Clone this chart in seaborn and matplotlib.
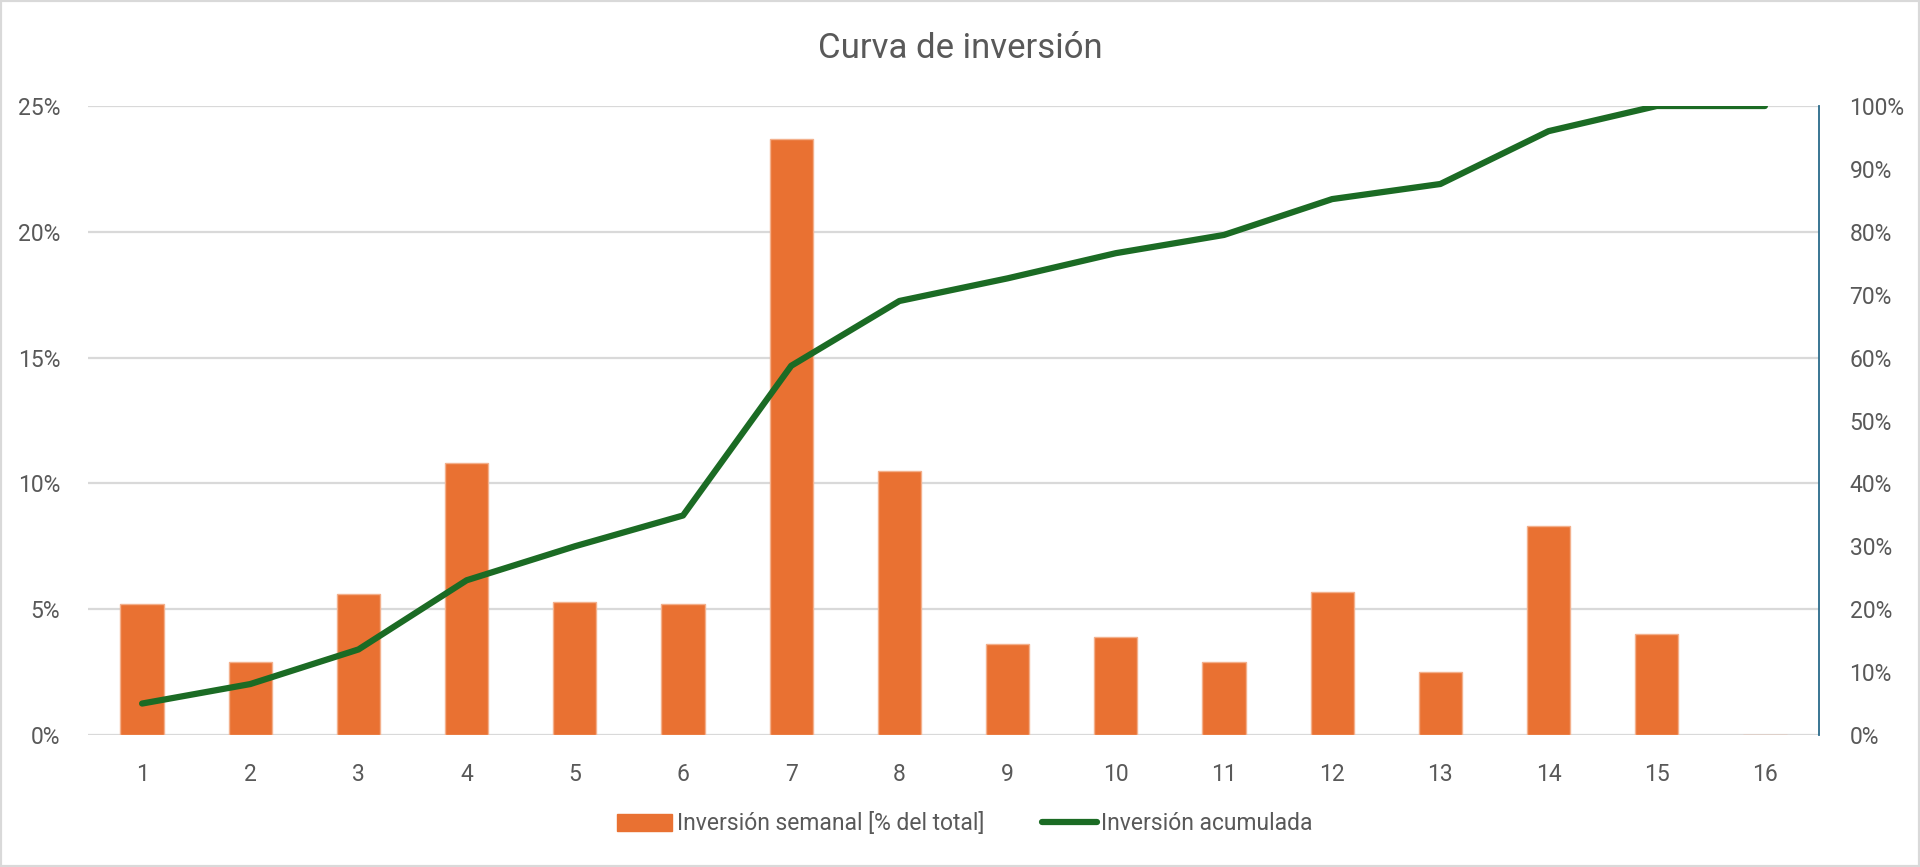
import matplotlib
matplotlib.use("Agg")
import matplotlib.pyplot as plt
import matplotlib.ticker as mticker
import numpy as np
import pandas as pd
import seaborn as sns
from matplotlib.lines import Line2D
from matplotlib.patches import Patch, Rectangle

weeks = [str(i) for i in range(1, 17)]
weekly_pct = [5.2, 2.9, 5.6, 10.8, 5.3, 5.2, 23.7, 10.5, 3.6, 3.9, 2.9, 5.7, 2.5, 8.3, 4.0, 0.0]
cumulative_pct = [5.0, 8.1, 13.6, 24.6, 30.0, 34.9, 58.7, 69.0, 72.6, 76.6, 79.5, 85.2, 87.6, 96.0, 100.0, 100.0]

left_ticks = [0, 5, 10, 15, 20, 25]
right_ticks = [0, 10, 20, 30, 40, 50, 60, 70, 80, 90, 100]

title = "Curva de inversión"
bar_label = "Inversión semanal [% del total]"
line_label = "Inversión acumulada"

BAR_COLOR = "#E97132"
LINE_COLOR = "#1B6B24"
TEXT_COLOR = "#595959"
GRID_COLOR = "#D9D9D9"

sns.set_theme(style="white")
plt.rcParams["font.family"] = ["Roboto", "DejaVu Sans"]

df = pd.DataFrame({"week": weeks, "weekly": weekly_pct, "cum": cumulative_pct})

fig = plt.figure(figsize=(19.2, 8.67), dpi=100)
ax = fig.add_axes([88 / 1920, 1 - 735 / 867, (1819 - 88) / 1920, (735 - 106) / 867])

sns.barplot(data=df, x="week", y="weekly", color=BAR_COLOR, width=0.4,
            edgecolor="#F3B08C", linewidth=1.0, saturation=1, ax=ax, zorder=2)
ax.set_ylim(0, 25)
ax.set_yticks(left_ticks)
ax.yaxis.set_major_formatter(mticker.FuncFormatter(lambda v, p: f"{v:.0f}%"))
ax.grid(axis="y", color=GRID_COLOR, linewidth=1.6, zorder=0)
ax.set_axisbelow(True)
for s in ["left", "right", "top", "bottom"]:
    ax.spines[s].set_visible(False)
ax.set_xlabel("")
ax.set_ylabel("")
ax.tick_params(axis="both", length=0, labelsize=16.5, labelcolor=TEXT_COLOR)
ax.tick_params(axis="y", pad=20)
ax.tick_params(axis="x", pad=20)

ax2 = ax.twinx()
sns.lineplot(x=np.arange(len(weeks)), y=cumulative_pct, color=LINE_COLOR, linewidth=4.5,
             ax=ax2, solid_capstyle="round", zorder=3)
ax2.set_ylim(0, 100)
ax2.set_yticks(right_ticks)
ax2.yaxis.set_major_formatter(mticker.FuncFormatter(lambda v, p: f"{v:.0f}%"))
ax2.grid(False)
for s in ["left", "top", "bottom"]:
    ax2.spines[s].set_visible(False)
ax2.spines["right"].set_visible(True)
ax2.spines["right"].set_color("#2A6A8A")
ax2.spines["right"].set_linewidth(1.3)
ax2.tick_params(axis="y", length=0, labelsize=16.5, labelcolor=TEXT_COLOR, pad=22)
ax2.set_ylabel("")

# twinx shares x, lineplot autoscale widened it; put categories back edge to edge
ax.set_xlim(-0.5, len(weeks) - 0.5)

fig.text(0.5, 1 - 48 / 867, title, ha="center", va="center", fontsize=25, color=TEXT_COLOR)

handles = [Patch(facecolor=BAR_COLOR, edgecolor=BAR_COLOR),
           Line2D([0], [0], color=LINE_COLOR, linewidth=4.5, solid_capstyle="round")]
fig.legend(handles, [bar_label, line_label], loc="center", bbox_to_anchor=(0.5026, 1 - 824 / 867),
           ncol=2, frameon=False, fontsize=16.5, labelcolor=TEXT_COLOR,
           handlelength=2.4, handletextpad=0.2, columnspacing=2.5)

fig.patches.append(Rectangle((0, 0), 1, 1, transform=fig.transFigure, fill=False,
                             edgecolor=GRID_COLOR, linewidth=3))

fig.savefig("out.png", dpi=100)
